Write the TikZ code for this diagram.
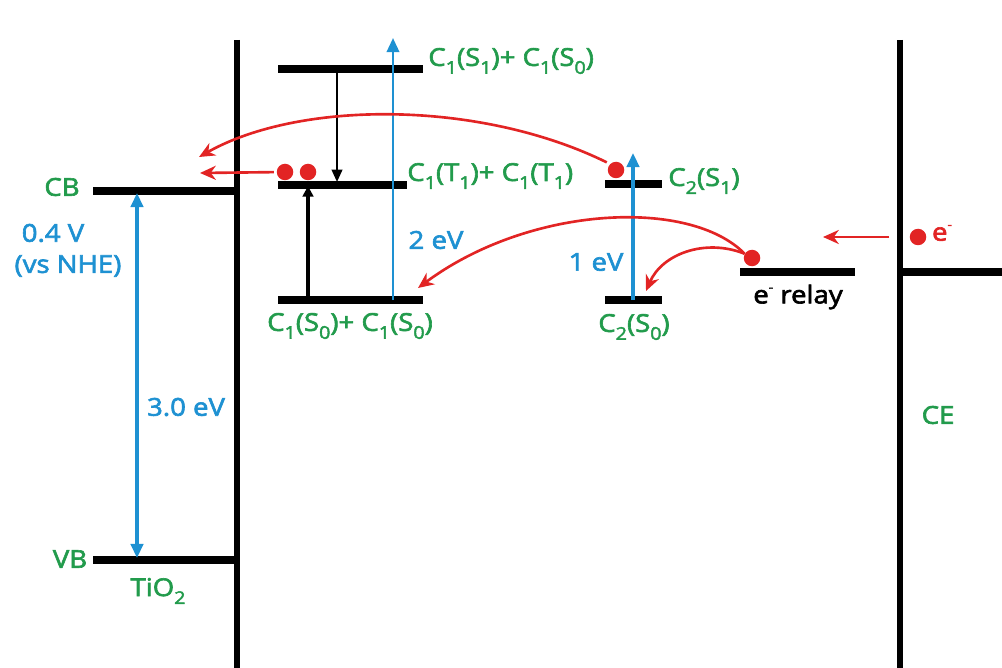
\documentclass[tikz,border=0pt]{standalone}
\usepackage{fontspec}
\setmainfont{Open Sans}[FakeBold=2.5,FakeStretch=1.12]
\usetikzlibrary{arrows.meta}

\definecolor{lblgreen}{RGB}{34,155,76}
\definecolor{lblblue}{RGB}{30,145,210}
\definecolor{arred}{RGB}{226,36,36}
\newcommand\lo[1]{\raisebox{-0.6ex}{\fontsize{10}{10}\selectfont #1}}
\newcommand\hi[1]{\raisebox{0.9ex}{\fontsize{7}{7}\selectfont #1}}

\begin{document}
\begin{tikzpicture}[x=0.2mm,y=-0.2mm,
	lvl/.style={line width=4pt},
	wall/.style={line width=3.4pt},
	glab/.style={text=lblgreen,inner sep=0pt,font=\fontsize{14}{16}\selectfont},
	blab/.style={text=lblblue,inner sep=0pt,font=\fontsize{14}{16}\selectfont},
	bup/.style={lblblue,line width=2pt,-{Triangle[length=8pt,width=7pt]}},
	redarr/.style={arred,line width=1.5pt,-{Stealth[length=9pt,width=8pt]}},
	dot/.style={circle,fill=arred,inner sep=0pt,minimum size=3.3mm}]
	\useasboundingbox (0,0) rectangle (1002,668);
	% electrodes
	\coordinate (tiTop) at (237,40);
	\coordinate (tiBot) at (237,668);
	\coordinate (ceTop) at (900,40);
	\coordinate (ceBot) at (900,668);
	\draw[wall] (tiTop) -- (tiBot);
	\draw[wall] (ceTop) -- (ceBot);
	\coordinate (ceL) at (900,272);
	\coordinate (ceR) at (1002,272);
	\draw[lvl] (ceL) -- (ceR);
	% TiO2 bands
	\coordinate (cbL) at (93,191);
	\coordinate (cbR) at (237,191);
	\coordinate (vbL) at (93,560);
	\coordinate (vbR) at (237,560);
	\draw[lvl] (cbL) -- (cbR);
	\draw[lvl] (vbL) -- (vbR);
	\coordinate (gapTop) at (137,193);
	\coordinate (gapBot) at (137,558);
	\draw[bup,{Triangle[length=8pt,width=7pt]}-{Triangle[length=8pt,width=7pt]}] (gapTop) -- (gapBot);
	\node[glab] (cb) at (62,187) {CB};
	\node[glab] (vb) at (70,559) {VB};
	\node[glab] (tio) at (158,591) {TiO\lo{2}};
	\node[blab] (volt) at (53,233) {0.4 V};
	\node[blab] (nhe) at (68,266) {(vs NHE)};
	\node[blab] (gapev) at (186,407) {3.0 eV};
	% C1 levels
	\coordinate (sAL) at (278,69);
	\coordinate (sAR) at (423,69);
	\coordinate (tAL) at (278,185);
	\coordinate (tAR) at (407,185);
	\coordinate (gAL) at (278,300);
	\coordinate (gAR) at (423,300);
	\draw[lvl] (sAL) -- (sAR);
	\draw[lvl] (tAL) -- (tAR);
	\draw[lvl] (gAL) -- (gAR);
	\coordinate (iscTop) at (337,69);
	\coordinate (iscBot) at (337,182);
	\draw[line width=1.2pt,-{Triangle[length=7pt,width=6pt]}] (iscTop) -- (iscBot);
	\coordinate (tpaBot) at (308,300);
	\coordinate (tpaTop) at (308,186);
	\draw[line width=2.5pt,-{Triangle[length=6pt,width=6pt]}] (tpaBot) -- (tpaTop);
	\coordinate (exAbot) at (393,300);
	\coordinate (exAtop) at (393,38);
	\draw[bup,line width=1.5pt] (exAbot) -- (exAtop);
	\node[glab,anchor=west] (sAlab) at (428,61) {C\lo{1}(S\lo{1})+ C\lo{1}(S\lo{0})};
	\node[glab,anchor=west] (tAlab) at (407,176) {C\lo{1}(T\lo{1})+ C\lo{1}(T\lo{1})};
	\node[glab] (gAlab) at (350,326) {C\lo{1}(S\lo{0})+ C\lo{1}(S\lo{0})};
	\node[blab] (twoev) at (436,240) {2 eV};
	\node[dot] (tdotA) at (285,172) {};
	\node[dot] (tdotB) at (308,172) {};
	% C2 levels
	\coordinate (sBL) at (605,184);
	\coordinate (sBR) at (662,184);
	\coordinate (gBL) at (605,300);
	\coordinate (gBR) at (662,300);
	\draw[lvl] (sBL) -- (sBR);
	\draw[lvl] (gBL) -- (gBR);
	\coordinate (exBbot) at (633,300);
	\coordinate (exBtop) at (633,153);
	\draw[bup] (exBbot) -- (exBtop);
	\node[glab] (sBlab) at (704,181) {C\lo{2}(S\lo{1})};
	\node[glab] (gBlab) at (634,327) {C\lo{2}(S\lo{0})};
	\node[blab] (oneev) at (596,262) {1 eV};
	\node[dot] (sdot) at (616,170) {};
	% relay
	\coordinate (rlL) at (740,272);
	\coordinate (rlR) at (855,272);
	\draw[lvl] (rlL) -- (rlR);
	\node[dot] (rdot) at (752,258) {};
	\node[inner sep=0pt,font=\fontsize{14}{16}\selectfont] (rlab) at (798,297) {e\hi{-} relay};
	\node[dot] (edot) at (918,237) {};
	\node[text=arred,inner sep=0pt,font=\fontsize{14}{16}\selectfont] (elab) at (942,233) {e\hi{-}};
	\node[glab] (ce) at (938,415) {CE};
	% electron transfer
	\coordinate (injA) at (200,173);
	\coordinate (injB) at (199,157);
	\coordinate (hitA) at (418,288);
	\coordinate (hitB) at (646,291);
	\coordinate (ceOut) at (823,237);
	\draw[redarr,shorten <=1.5pt] (tdotA) -- (injA);
	\draw[redarr,shorten <=2pt] (sdot.135) .. controls (480,100) and (300,100) .. (injB);
	\draw[redarr] (rdot.150) .. controls (690,198) and (530,205) .. (hitA);
	\draw[redarr] (rdot.150) .. controls (705,238) and (662,254) .. (hitB);
	\draw[redarr,shorten <=4mm] (edot) -- (ceOut);
\end{tikzpicture}
\end{document}
